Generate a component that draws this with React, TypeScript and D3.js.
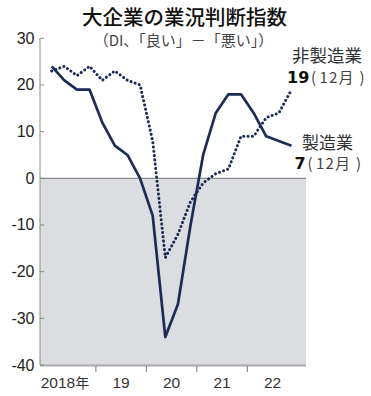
import React from "react";
import * as d3 from "d3";

const quarters = [
  "2018-03","2018-06","2018-09","2018-12",
  "2019-03","2019-06","2019-09","2019-12",
  "2020-03","2020-06","2020-09","2020-12",
  "2021-03","2021-06","2021-09","2021-12",
  "2022-03","2022-06","2022-09","2022-12",
];
const manufacturing = [24, 21, 19, 19, 12, 7, 5, 0, -8, -34, -27, -10, 5, 14, 18, 18, 14, 9, 8, 7];
const nonManufacturing = [23, 24, 22, 24, 21, 23, 21, 20, 8, -17, -12, -5, -1, 1, 2, 9, 9, 13, 14, 19];
const yearLabels = ["2018", "19", "20", "21", "22"];
const yTicks = [30, 20, 10, 0, -10, -20, -30, -40];

const W = 371;
const H = 396;
const navy = "#1d2b57";
const jp = "'Noto Sans CJK JP', 'Noto Sans', sans-serif";
const num = "'Liberation Sans', Arial, sans-serif";
const boldNum = "'DejaVu Sans', 'Liberation Sans', sans-serif";

function MonthNote({ x0, yb }: { x0: number; yb: number }) {
  return (
    <text y={yb} fontFamily={jp} fontSize={15} fill="#444">
      <tspan x={x0}>(</tspan>
      <tspan x={x0 + 8.5} letterSpacing={1.2}>12月</tspan>
      <tspan x={x0 + 48.5}>)</tspan>
    </text>
  );
}

export default function App() {
  const x = d3.scaleLinear().domain([-0.93, 20.15]).range([40, 306]);
  const y = d3.scaleLinear().domain([-40, 30]).range([365, 38.3]);
  const line = d3
    .line<number>()
    .x((_, i) => x(i))
    .y((d) => y(d));
  const yearTicks = [3.5, 7.5, 11.5, 15.5];
  const yearCenters = [1.05, 5.5, 9.5, 13.5, 17.5];

  return (
    <svg
      width={W}
      height={H}
      style={{ position: "absolute", left: 0, top: 0, background: "#fff" }}
    >
      <rect x={x(-0.93)} y={y(0)} width={x(20.15) - x(-0.93)} height={y(-40) - y(0)} fill="#dcdde0" />
      <line x1={40} x2={306} y1={y(0)} y2={y(0)} stroke="#8a8a8a" strokeWidth={1.2} />
      <line x1={40} x2={40} y1={y(30)} y2={y(-40)} stroke="#8a8a8a" strokeWidth={1} />
      <line x1={40} x2={306} y1={y(-40) + 0.5} y2={y(-40) + 0.5} stroke="#a9a9a9" strokeWidth={2} />
      {yTicks.map((t) => (
        <g key={t}>
          <line x1={40} x2={44} y1={y(t)} y2={y(t)} stroke="#8a8a8a" strokeWidth={1} />
          <text
            x={34.5}
            y={y(t) + 5.5}
            textAnchor="end"
            fontFamily={num}
            fontSize={16}
            fill="#222"
          >
            {t}
          </text>
        </g>
      ))}
      {yearTicks.map((t) => (
        <line key={t} x1={x(t)} x2={x(t)} y1={y(-40) + 1} y2={y(-40) + 7} stroke="#777" strokeWidth={1} />
      ))}
      {yearLabels.map((lab, i) => (
        <text
          key={lab}
          x={x(yearCenters[i])}
          y={388}
          textAnchor="middle"
          fontFamily={num}
          fontSize={15.5}
          fill="#333"
        >
          {lab}
          {i === 0 ? <tspan fontFamily={jp} fontSize={14}>年</tspan> : null}
        </text>
      ))}
      <path
        d={line(nonManufacturing) || ""}
        fill="none"
        stroke={navy}
        strokeWidth={3}
        strokeLinecap="round"
        strokeDasharray="0.1 4.2"
      />
      <path
        d={line(manufacturing) || ""}
        fill="none"
        stroke={navy}
        strokeWidth={2.7}
        strokeLinejoin="round"
      />
      <text x={184.5} y={25} textAnchor="middle" fontFamily={jp} fontSize={20.5} fontWeight={500} fill="#111">
        大企業の業況判断指数
      </text>
      <text x={183.5} y={46} textAnchor="middle" fontFamily={jp} fontSize={15} fill="#444">
        （DI、「良い」－「悪い」）
      </text>
      <text x={362} y={62} textAnchor="end" fontFamily={jp} fontSize={17.5} fill="#333">
        非製造業
      </text>
      <text x={287} y={83} fontFamily={boldNum} fontSize={16} fontWeight={700} fill="#111">
        {nonManufacturing[nonManufacturing.length - 1]}
      </text>
      <MonthNote x0={311} yb={83} />
      <text x={353} y={149} textAnchor="end" fontFamily={jp} fontSize={17} fill="#333">
        製造業
      </text>
      <text x={294.5} y={169} fontFamily={boldNum} fontSize={16} fontWeight={700} fill="#111">
        {manufacturing[manufacturing.length - 1]}
      </text>
      <MonthNote x0={307.5} yb={169} />
    </svg>
  );
}
